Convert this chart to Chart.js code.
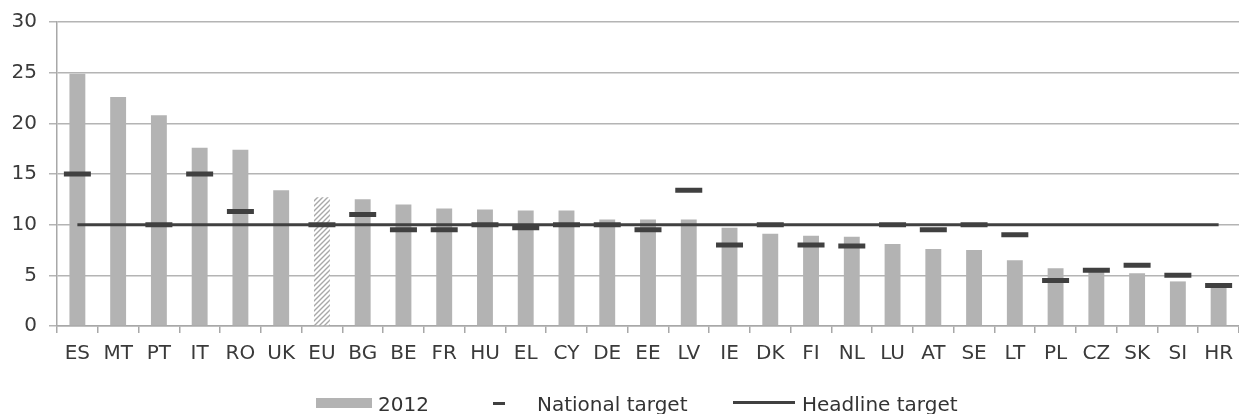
<!DOCTYPE html>
<html><head><meta charset="utf-8">
<script src="https://cdn.jsdelivr.net/npm/chart.js@4"></script>
<style>
html,body{margin:0;padding:0;background:#fff;}
#wrap{position:relative;width:1239px;height:414px;overflow:hidden;}
#c{position:absolute;left:0;top:0;}
.lg{position:absolute;font-family:"DejaVu Sans";font-size:20px;line-height:20px;color:#333;white-space:nowrap;top:394px;}
.sw{position:absolute;}
</style></head><body>
<div id="wrap">
<canvas id="c" width="1239" height="414" style="width:1239px;height:414px"></canvas>
<div class="sw" style="left:316px;top:398px;width:56px;height:10px;background:#b3b3b3"></div>
<span class="lg" style="left:378px">2012</span>
<div class="sw" style="left:493px;top:402px;width:12px;height:3px;background:#404040"></div>
<span class="lg" style="left:537px">National target</span>
<div class="sw" style="left:733px;top:401px;width:62px;height:3px;background:#404040"></div>
<span class="lg" style="left:802px">Headline target</span>
</div>
<script>
const categories = ["ES","MT","PT","IT","RO","UK","EU","BG","BE","FR","HU","EL","CY","DE","EE","LV","IE","DK","FI","NL","LU","AT","SE","LT","PL","CZ","SK","SI","HR"];
const values2012 = [24.9,22.6,20.8,17.6,17.4,13.4,12.7,12.5,12.0,11.6,11.5,11.4,11.4,10.5,10.5,10.5,9.7,9.1,8.9,8.8,8.1,7.6,7.5,6.5,5.7,5.5,5.2,4.4,4.2];
const nationalTargets = [15,null,10,15,11.3,null,10,11,9.5,9.5,10,9.7,10,10,9.5,13.4,8,10,8,7.9,10,9.5,10,9,4.5,5.5,6,5,4];
const headlineTarget = 10;
const yTicks = [0,5,10,15,20,25,30];
const hatchedCategory = "EU";

function makeHatch(){
  const p = document.createElement('canvas');
  p.width = 5; p.height = 5;
  const g = p.getContext('2d');
  g.fillStyle = '#ffffff'; g.fillRect(0,0,5,5);
  g.strokeStyle = '#a8a8a8'; g.lineWidth = 1.4;
  g.beginPath();
  g.moveTo(-1,6); g.lineTo(6,-1);
  g.moveTo(-1,1); g.lineTo(1,-1);
  g.moveTo(4,6); g.lineTo(6,4);
  g.stroke();
  return document.getElementById('c').getContext('2d').createPattern(p,'repeat');
}
const hatch = makeHatch();
const barColors = categories.map(c => c === hatchedCategory ? hatch : '#b3b3b3');

Chart.defaults.font.family = 'DejaVu Sans';
Chart.defaults.font.size = 20;
Chart.defaults.color = '#3a3a3a';

new Chart(document.getElementById('c'), {
  data: {
    labels: categories,
    datasets: [
      { type:'line', label:'Headline target', data: categories.map(() => headlineTarget),
        borderColor:'#404040', borderWidth:3, pointRadius:0, order:0 },
      { type:'line', label:'National target', data: nationalTargets, showLine:false,
        pointStyle:'line', pointRadius:13.5, pointBorderWidth:5, pointBorderColor:'#404040',
        pointBackgroundColor:'#404040', borderColor:'#404040', borderWidth:5, order:1 },
      { type:'bar', label:'2012', data: values2012, backgroundColor: barColors,
        barPercentage:0.39, categoryPercentage:1, order:2 }
    ]
  },
  options: {
    responsive:false, animation:false,
    layout:{ autoPadding:false, padding:{ top:22, right:0, left:0, bottom:48 } },
    plugins:{ legend:{display:false}, tooltip:{enabled:false} },
    scales:{
      x:{
        offset:true,
        grid:{ drawOnChartArea:false, drawTicks:true, tickLength:7, color:'#a8a8a8', lineWidth:1.5, offset:true },
        border:{ display:true, color:'#a8a8a8', width:1.5 },
        ticks:{ padding:9, maxRotation:0, autoSkip:false, font:{size:20} },
        afterFit: s => { s.height = 40; s.paddingRight = 0; s.paddingLeft = 0; }
      },
      y:{
        min:0, max:30,
        afterBuildTicks: s => { s.ticks = yTicks.map(v => ({value:v})); },
        grid:{ color:'#b4b4b4', lineWidth:1.5, tickLength:8 },
        border:{ display:true, color:'#a8a8a8', width:1.5 },
        ticks:{ padding:12, font:{size:20} },
        afterFit: s => { s.width = 57; s.paddingTop = 0; s.paddingBottom = 0; }
      }
    }
  }
});
</script>
</body></html>
